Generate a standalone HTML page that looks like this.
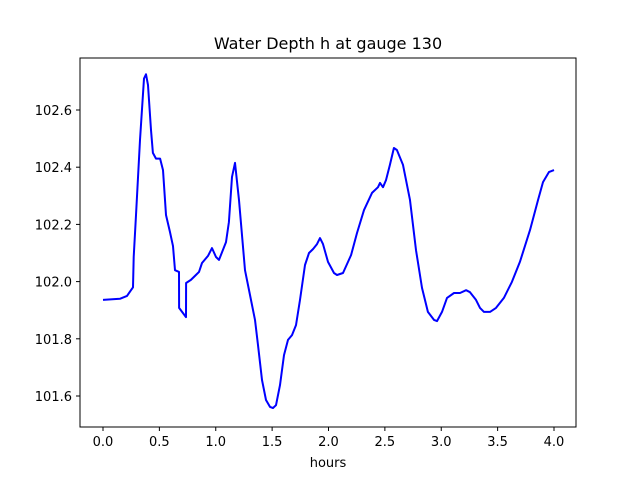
<!DOCTYPE html>
<html><head><meta charset="utf-8"><style>
body{margin:0;background:#fff}
svg text{font-family:"DejaVu Sans","Liberation Sans",sans-serif;fill:#000}
</style></head><body>
<svg width="640" height="480" xmlns="http://www.w3.org/2000/svg">
<rect width="640" height="480" fill="#fff"/>
<text x="328" y="49" font-size="16" text-anchor="middle">Water Depth h at gauge 130</text>
<g id="plot"></g>
<rect x="80" y="58" width="496" height="369" fill="none" stroke="#000" stroke-width="1"/>
<g id="xt"></g><g id="yt"></g>
<text x="328" y="467" font-size="13" text-anchor="middle">hours</text>
</svg>
<script>
const hours=[0,0.15,0.213,0.266,0.272,0.292,0.328,0.364,0.381,0.399,0.426,0.443,0.47,0.506,0.532,0.559,0.594,0.621,0.639,0.674,0.675,0.736,0.737,0.78,0.816,0.851,0.878,0.931,0.967,1.002,1.029,1.091,1.117,1.144,1.171,1.206,1.259,1.304,1.348,1.375,1.41,1.446,1.481,1.508,1.534,1.57,1.605,1.641,1.676,1.712,1.747,1.792,1.827,1.863,1.898,1.925,1.951,1.996,2.049,2.075,2.129,2.2,2.253,2.315,2.386,2.439,2.457,2.483,2.51,2.545,2.58,2.607,2.661,2.723,2.776,2.829,2.882,2.936,2.962,3.007,3.051,3.113,3.166,3.22,3.255,3.308,3.344,3.379,3.432,3.486,3.556,3.627,3.698,3.787,3.858,3.902,3.955,4.0];
const depth=[101.936,101.94,101.95,101.98,102.086,102.226,102.495,102.71,102.725,102.687,102.53,102.45,102.43,102.43,102.39,102.233,102.173,102.124,102.04,102.034,101.908,101.876,101.995,102.006,102.02,102.034,102.065,102.09,102.117,102.086,102.076,102.138,102.208,102.366,102.415,102.285,102.04,101.953,101.866,101.778,101.656,101.586,101.562,101.558,101.568,101.638,101.743,101.796,101.813,101.848,101.936,102.058,102.1,102.114,102.131,102.152,102.131,102.069,102.03,102.023,102.03,102.093,102.17,102.25,102.31,102.33,102.345,102.33,102.355,102.408,102.467,102.46,102.408,102.285,102.11,101.978,101.894,101.866,101.862,101.894,101.943,101.96,101.96,101.97,101.963,101.936,101.908,101.894,101.894,101.908,101.943,101.999,102.069,102.18,102.285,102.348,102.383,102.39];
const xTicks=[0,0.5,1,1.5,2,2.5,3,3.5,4];
const yTicks=[101.6,101.8,102.0,102.2,102.4,102.6];
const X=v=>103+v*112.75;
const Y=v=>110+(102.6-v)*286;
const NS="http://www.w3.org/2000/svg";
const plot=document.getElementById('plot');
const line=document.createElementNS(NS,'polyline');


line.setAttribute('points',hours.map((h,i)=>X(h).toFixed(1)+','+Y(depth[i]).toFixed(1)).join(' '));
line.setAttribute('fill','none');line.setAttribute('stroke','#0000ff');line.setAttribute('stroke-width','2');line.setAttribute('stroke-linejoin','round');
plot.appendChild(line);
const xt=document.getElementById('xt');
xTicks.forEach(t=>{
const l=document.createElementNS(NS,'line');


l.setAttribute('x1',X(t));l.setAttribute('x2',X(t));l.setAttribute('y1',427);l.setAttribute('y2',431);l.setAttribute('stroke','#000');
xt.appendChild(l);
const tx=document.createElementNS(NS,'text');


tx.setAttribute('x',X(t));tx.setAttribute('y',446);tx.setAttribute('font-size','13');tx.setAttribute('text-anchor','middle');
tx.textContent=t.toFixed(1);xt.appendChild(tx);
});
const yt=document.getElementById('yt');
yTicks.forEach(t=>{
const l=document.createElementNS(NS,'line');


l.setAttribute('x1',76);l.setAttribute('x2',80);l.setAttribute('y1',Y(t));l.setAttribute('y2',Y(t));l.setAttribute('stroke','#000');
yt.appendChild(l);
const tx=document.createElementNS(NS,'text');


tx.setAttribute('x',72);tx.setAttribute('y',Y(t)+5);tx.setAttribute('font-size','13');tx.setAttribute('text-anchor','end');
tx.textContent=t.toFixed(1);yt.appendChild(tx);
});
</script>
</body></html>
